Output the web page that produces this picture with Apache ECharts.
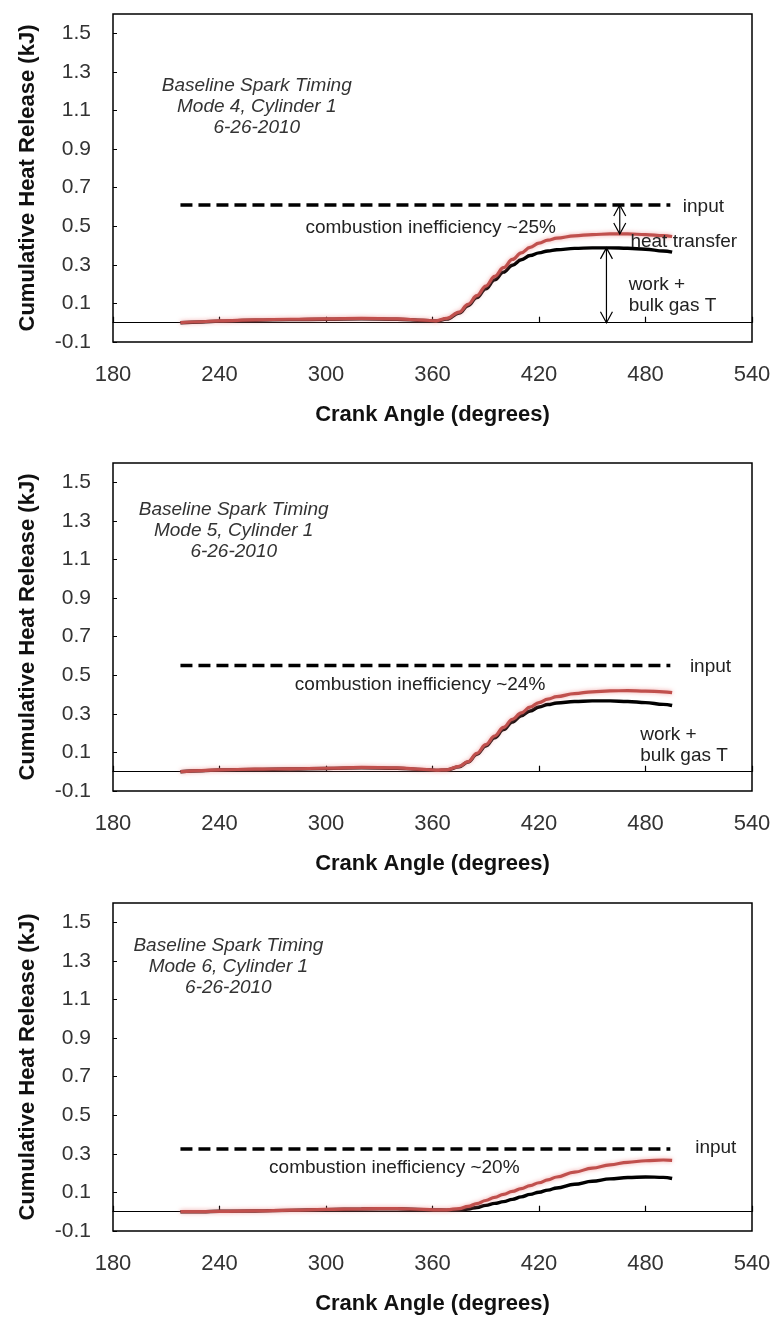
<!DOCTYPE html>
<html>
<head>
<meta charset="utf-8">
<script src="https://cdn.jsdelivr.net/npm/echarts@6.0.0/dist/echarts.min.js"></script>
<style>
  html, body { margin: 0; padding: 0; background: #fff; }
  #chart { width: 777px; height: 1331px; }
</style>
</head>
<body>
<div id="chart"></div>
<script>
// Crank angle samples (degrees) shared by every heat-release trace
const crankAngle = [218, 230, 240, 260, 280, 300, 320, 340, 355, 362, 368, 375, 380, 385, 390,
                    395, 400, 405, 410, 415, 420, 425, 430, 440, 450, 460, 470, 480, 490, 495];

// Cumulative heat release (kJ), gross (red) and net (black), per mode
const mode4Gross = [0.000, 0.005, 0.010, 0.015, 0.018, 0.020, 0.022, 0.020, 0.013, 0.010, 0.022, 0.055, 0.095, 0.140, 0.190,
                    0.240, 0.285, 0.328, 0.362, 0.390, 0.412, 0.428, 0.438, 0.450, 0.457, 0.460, 0.460, 0.457, 0.451, 0.447];
const mode4Net   = [0.000, 0.004, 0.008, 0.013, 0.016, 0.018, 0.020, 0.018, 0.012, 0.009, 0.019, 0.050, 0.088, 0.130, 0.176,
                    0.222, 0.262, 0.298, 0.326, 0.348, 0.362, 0.372, 0.378, 0.385, 0.388, 0.388, 0.386, 0.381, 0.372, 0.366];

const mode5Gross = [0.000, 0.006, 0.010, 0.013, 0.015, 0.018, 0.022, 0.020, 0.012, 0.008, 0.010, 0.028, 0.052, 0.095, 0.140,
                    0.185, 0.230, 0.272, 0.305, 0.335, 0.358, 0.376, 0.389, 0.405, 0.414, 0.419, 0.420, 0.418, 0.414, 0.410];
const mode5Net   = [0.000, 0.005, 0.009, 0.012, 0.014, 0.017, 0.020, 0.018, 0.011, 0.007, 0.009, 0.026, 0.050, 0.090, 0.133,
                    0.176, 0.218, 0.258, 0.290, 0.315, 0.335, 0.348, 0.356, 0.364, 0.367, 0.367, 0.364, 0.358, 0.349, 0.343];

const mode6Gross = [0.000, 0.000, 0.002, 0.004, 0.008, 0.012, 0.015, 0.016, 0.012, 0.010, 0.010, 0.016, 0.028, 0.042, 0.058,
                    0.074, 0.090, 0.105, 0.120, 0.135, 0.150, 0.165, 0.180, 0.205, 0.226, 0.243, 0.256, 0.264, 0.268, 0.266];
const mode6Net   = [0.000, 0.000, 0.002, 0.004, 0.007, 0.011, 0.014, 0.015, 0.011, 0.009, 0.008, 0.009, 0.014, 0.022, 0.033,
                    0.043, 0.052, 0.064, 0.077, 0.090, 0.101, 0.112, 0.123, 0.142, 0.158, 0.170, 0.177, 0.180, 0.178, 0.172];

// Fuel energy input (kJ) per mode and the crank span it is drawn over
const inputEnergy = [0.61, 0.55, 0.325];
const inputSpan = [218, 494];

// Axis tick labels
const angleTicks = [180, 240, 300, 360, 420, 480, 540];
const heatTicks = [-0.1, 0.1, 0.3, 0.5, 0.7, 0.9, 1.1, 1.3, 1.5];
const heatAxisMax = 1.6;

const modes = [
  { gross: mode4Gross, net: mode4Net, input: inputEnergy[0],
    title: 'Baseline Spark Timing\nMode 4, Cylinder 1\n6-26-2010',
    inefficiency: 'combustion inefficiency ~25%' },
  { gross: mode5Gross, net: mode5Net, input: inputEnergy[1],
    title: 'Baseline Spark Timing\nMode 5, Cylinder 1\n6-26-2010',
    inefficiency: 'combustion inefficiency ~24%' },
  { gross: mode6Gross, net: mode6Net, input: inputEnergy[2],
    title: 'Baseline Spark Timing\nMode 6, Cylinder 1\n6-26-2010',
    inefficiency: 'combustion inefficiency ~20%' }
];

// Layout: grid placement and where each text note is anchored (data coordinates)
const FONT = "'Liberation Sans', Arial, sans-serif";
const gridTops = [14, 463, 903];
const noteLayout = [
  { title: [261, 1.12], ineff: [359, 0.49], input: [501, 0.60],
    heat: [471.5, 0.418], work: [470.5, 0.142], arrows: [465.5, 458] },
  { title: [248, 1.25], ineff: [353, 0.449], input: [505, 0.542],
    work: [477, 0.138] },
  { title: [245, 1.27], ineff: [338.5, 0.226], input: [508, 0.33] }
];

const zip = (xs, ys) => xs.map((x, i) => [x, ys[i]]);

const grid = [], xAxis = [], yAxis = [], series = [];

modes.forEach((m, i) => {
  grid.push({ left: 113, width: 639, top: gridTops[i], height: 328,
              show: true, borderColor: '#000', borderWidth: 1.5, backgroundColor: 'transparent' });

  // labelled crank-angle axis along the bottom of the frame
  xAxis.push({
    gridIndex: i, type: 'value', position: 'bottom',
    min: angleTicks[0], max: angleTicks[angleTicks.length - 1], interval: angleTicks[1] - angleTicks[0],
    axisLine: { show: false, onZero: false },
    axisTick: { show: false },
    splitLine: { show: false },
    axisLabel: { margin: 22, fontSize: 22, color: '#333', fontFamily: FONT },
    name: 'Crank Angle (degrees)', nameLocation: 'middle', nameGap: 62,
    nameTextStyle: { fontSize: 22, fontWeight: 'bold', color: '#111', fontFamily: FONT }
  });
  // zero line with upward ticks
  xAxis.push({
    gridIndex: i, type: 'value', position: 'bottom',
    min: angleTicks[0], max: angleTicks[angleTicks.length - 1], interval: angleTicks[1] - angleTicks[0],
    axisLine: { show: true, onZero: true, lineStyle: { color: '#000', width: 1.2 } },
    axisTick: { show: true, inside: true, length: 6, lineStyle: { color: '#000', width: 1.2 } },
    axisLabel: { show: false },
    splitLine: { show: false }
  });

  yAxis.push({
    gridIndex: i, type: 'value',
    min: heatTicks[0], max: heatAxisMax, interval: heatTicks[1] - heatTicks[0],
    axisLine: { show: false },
    axisTick: { show: true, inside: true, length: 4, lineStyle: { color: '#000', width: 1 } },
    splitLine: { show: false },
    axisLabel: { margin: 22, fontSize: 21, color: '#333', fontFamily: FONT, showMaxLabel: false,
                 formatter: v => v.toFixed(1) },
    name: 'Cumulative Heat Release (kJ)', nameLocation: 'middle', nameGap: 74, nameRotate: 90,
    nameTextStyle: { fontSize: 22, fontWeight: 'bold', color: '#111', fontFamily: FONT }
  });

  const xi = i * 2, yi = i;

  series.push({
    type: 'line', xAxisIndex: xi, yAxisIndex: yi, symbol: 'none', silent: true, z: 3,
    data: [[inputSpan[0], m.input], [inputSpan[1], m.input]],
    lineStyle: { color: '#000', width: 3.5, type: [12, 6] }
  });
  series.push({
    type: 'line', xAxisIndex: xi, yAxisIndex: yi, symbol: 'none', silent: true, z: 4,
    smooth: 0.4, smoothMonotone: 'x',
    data: zip(crankAngle, m.net),
    lineStyle: { color: '#000', width: 3.4 }
  });
  series.push({
    type: 'line', xAxisIndex: xi, yAxisIndex: yi, symbol: 'none', silent: true, z: 5,
    smooth: 0.4, smoothMonotone: 'x',
    data: zip(crankAngle, m.gross),
    lineStyle: { color: '#c0504d', width: 3.2, shadowColor: 'rgba(235,130,130,0.7)', shadowBlur: 4 }
  });

  // text notes
  const L = noteLayout[i];
  const notes = [
    { at: L.title, text: m.title, align: 'center', style: 'italic', color: '#333' },
    { at: L.ineff, text: m.inefficiency, align: 'center' },
    { at: L.input, text: 'input', align: 'left' }
  ];
  if (L.heat) notes.push({ at: L.heat, text: 'heat transfer', align: 'left' });
  if (L.work) notes.push({ at: L.work, text: 'work +\nbulk gas T', align: 'left' });

  series.push({
    type: 'custom', xAxisIndex: xi, yAxisIndex: yi, silent: true, z: 8, clip: false,
    data: notes.map(n => n.at),
    renderItem: (params, api) => {
      const n = notes[params.dataIndex];
      const p = api.coord([api.value(0), api.value(1)]);
      return {
        type: 'text', x: p[0], y: p[1],
        style: {
          text: n.text, fill: n.color || '#222',
          fontSize: 19, fontFamily: FONT, fontStyle: n.style || 'normal',
          align: n.align, verticalAlign: 'middle', lineHeight: 21
        }
      };
    }
  });

  // double-headed arrows: input -> gross peak, and net peak -> zero
  if (L.arrows) {
    const grossPeak = Math.max(...m.gross);
    const netPeak = Math.max(...m.net);
    const arrows = [[L.arrows[0], grossPeak, m.input], [L.arrows[1], 0, netPeak]];
    series.push({
      type: 'custom', xAxisIndex: xi, yAxisIndex: yi, silent: true, z: 9, clip: false,
      data: arrows,
      renderItem: (params, api) => {
        const a = api.coord([api.value(0), api.value(1)]);
        const b = api.coord([api.value(0), api.value(2)]);
        const hw = 6, hl = 11;
        const st = { stroke: '#000', lineWidth: 1.2, fill: null };
        return {
          type: 'group',
          children: [
            { type: 'line', shape: { x1: a[0], y1: a[1], x2: b[0], y2: b[1] }, style: st },
            { type: 'polyline', shape: { points: [[a[0] - hw, a[1] - hl], [a[0], a[1]], [a[0] + hw, a[1] - hl]] }, style: st },
            { type: 'polyline', shape: { points: [[b[0] - hw, b[1] + hl], [b[0], b[1]], [b[0] + hw, b[1] + hl]] }, style: st }
          ]
        };
      }
    });
  }
});

const chart = echarts.init(document.getElementById('chart'), null, { renderer: 'canvas' });
chart.setOption({
  backgroundColor: '#fff',
  animation: false,
  grid, xAxis, yAxis, series
});
</script>
</body>
</html>
